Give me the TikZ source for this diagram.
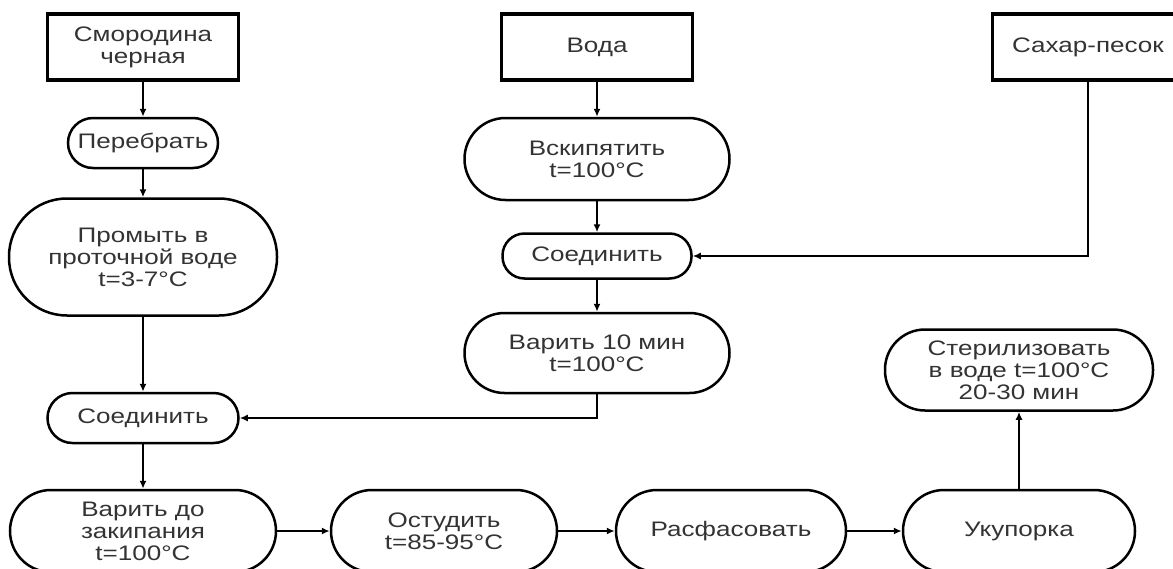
\documentclass[tikz,border=0pt]{standalone}
\usepackage{fontspec}
\setmainfont[FakeStretch=1.24]{Liberation Sans}
\usetikzlibrary{arrows.meta}
\begin{document}
\begin{tikzpicture}
  [x=1pt,y=-1pt,
   every node/.style={align=center,inner sep=0pt,text=black!80,
     font=\fontsize{21}{22}\selectfont},
   src/.style={draw,line width=3.2pt,minimum width=191pt,minimum height=66pt},
   proc/.style={draw,line width=2.5pt,rounded corners=25pt},
   conn/.style={line width=2pt,-{Latex[length=8pt,width=7pt]}}]
  \useasboundingbox (0,0) rectangle (1173,568);

  \node[src] (smor) at (143,47) {Смородина\\черная};
  \node[src] (voda) at (597,47) {Вода};
  \node[src] (sahar) at (1088,47) {Сахар-песок};

  \node[proc,minimum width=150pt,minimum height=50pt] (pere) at (143,143) {Перебрать};
  \node[proc,rounded corners=58pt,minimum width=268pt,minimum height=117pt] (prom) at (143,257)
    {Промыть в\\проточной воде\\t=3-7°C};
  \node[proc,rounded corners=41pt,minimum width=265pt,minimum height=82pt] (kip) at (597,159)
    {Вскипятить\\t=100°C};
  \node[proc,rounded corners=22pt,minimum width=189pt,minimum height=45pt] (soed1) at (597,256) {Соединить};
  \node[proc,rounded corners=40pt,minimum width=265pt,minimum height=80pt] (var1) at (597,353)
    {Варить 10 мин\\t=100°C};
  \node[proc,minimum width=191pt,minimum height=50pt] (soed2) at (143,418) {Соединить};
  \node[proc,rounded corners=41pt,minimum width=266pt,minimum height=82pt] (var2) at (143,531)
    {Варить до\\закипания\\t=100°C};
  \node[proc,rounded corners=41pt,minimum width=226pt,minimum height=82pt] (ost) at (444,531)
    {Остудить\\t=85-95°C};
  \node[proc,rounded corners=41pt,minimum width=230pt,minimum height=82pt] (fas) at (731,531) {Расфасовать};
  \node[proc,rounded corners=41pt,minimum width=232pt,minimum height=82pt] (ukup) at (1019,531) {Укупорка};
  \node[proc,rounded corners=40pt,minimum width=268pt,minimum height=81pt] (ster) at (1019,370)
    {Стерилизовать\\в воде t=100°C\\20-30 мин};

  \foreach \from/\to in {smor/pere,pere/prom,prom/soed2,soed2/var2,voda/kip,kip/soed1,
                         soed1/var1,var2/ost,ost/fas,fas/ukup,ukup/ster}
    \draw[conn] (\from) -- (\to);
  \draw[conn] (sahar.south) |- (soed1.east);
  \draw[conn] (var1.south) |- (soed2.east);
\end{tikzpicture}
\end{document}
